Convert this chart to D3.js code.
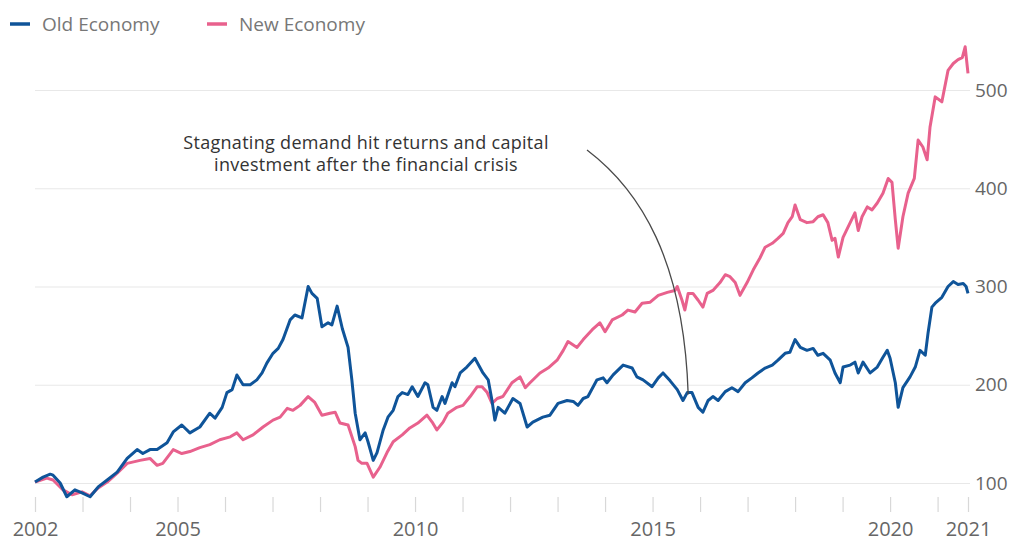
<!DOCTYPE html>
<html>
<head>
<meta charset="utf-8">
<script src="https://cdn.jsdelivr.net/npm/d3@7"></script>
<style>
  html, body { margin: 0; padding: 0; background: #ffffff; }
  svg { display: block; }
  text { font-family: "Open Sans", Lato, sans-serif; }
</style>
</head>
<body>
<svg id="chart" width="1021" height="542"></svg>
<script>
// ---- Data (decimal year, index value) ----
const oldYears = [2002.00,2002.17,2002.32,2002.38,2002.53,2002.67,2002.84,2002.99,2003.16,2003.33,2003.52,2003.73,2003.94,2004.15,2004.27,2004.42,2004.57,2004.78,2004.91,2005.09,2005.26,2005.47,2005.68,2005.79,2005.94,2006.04,2006.15,2006.25,2006.38,2006.53,2006.67,2006.78,2006.88,2007.01,2007.12,2007.22,2007.37,2007.47,2007.62,2007.75,2007.83,2007.94,2008.04,2008.17,2008.25,2008.36,2008.47,2008.59,2008.67,2008.74,2008.84,2008.95,2009.01,2009.12,2009.20,2009.33,2009.43,2009.54,2009.64,2009.73,2009.85,2009.94,2010.06,2010.21,2010.27,2010.38,2010.46,2010.57,2010.63,2010.78,2010.84,2010.95,2011.09,2011.26,2011.43,2011.54,2011.62,2011.68,2011.75,2011.89,2012.06,2012.21,2012.36,2012.48,2012.69,2012.84,2013.01,2013.20,2013.33,2013.43,2013.54,2013.64,2013.83,2013.96,2014.04,2014.17,2014.38,2014.57,2014.67,2014.80,2014.99,2015.12,2015.22,2015.37,2015.52,2015.64,2015.73,2015.83,2015.96,2016.06,2016.17,2016.27,2016.38,2016.53,2016.67,2016.80,2016.95,2017.09,2017.22,2017.37,2017.52,2017.64,2017.79,2017.89,2018.00,2018.11,2018.25,2018.38,2018.48,2018.59,2018.74,2018.84,2018.95,2019.01,2019.16,2019.26,2019.33,2019.43,2019.58,2019.73,2019.85,2019.94,2020.00,2020.11,2020.17,2020.27,2020.42,2020.53,2020.63,2020.74,2020.80,2020.88,2020.95,2021.09,2021.22,2021.33,2021.43,2021.54,2021.60,2021.64];
const oldValues = [101,106,109,108,100,86,93,90,86,96,103,111,125,134,130,134,134,141,152,159,151,157,171,166,177,192,195,210,200,200,205,212,222,232,237,246,266,271,268,300,293,288,259,263,261,280,257,238,205,171,144,151,142,123,131,154,167,174,188,192,190,198,188,202,200,177,174,188,181,202,198,212,218,227,212,205,184,164,177,171,186,181,157,162,167,169,181,184,183,179,186,188,205,207,202,210,220,217,208,205,198,207,212,204,195,184,192,192,177,172,184,188,184,193,197,193,202,207,212,217,220,225,232,233,246,238,235,237,230,232,225,212,202,218,220,223,212,223,212,218,228,235,227,202,177,197,208,218,235,230,253,279,283,289,300,305,302,303,300,293];

const newYears = [2002.00,2002.25,2002.38,2002.59,2002.78,2002.99,2003.16,2003.33,2003.52,2003.73,2003.94,2004.21,2004.42,2004.57,2004.69,2004.91,2005.09,2005.26,2005.47,2005.68,2005.89,2006.11,2006.25,2006.38,2006.59,2006.80,2007.01,2007.16,2007.31,2007.43,2007.58,2007.75,2007.89,2008.04,2008.21,2008.32,2008.42,2008.59,2008.74,2008.80,2008.88,2008.99,2009.12,2009.26,2009.41,2009.54,2009.73,2009.89,2010.06,2010.25,2010.36,2010.46,2010.59,2010.69,2010.88,2011.01,2011.16,2011.31,2011.41,2011.52,2011.62,2011.73,2011.85,2012.04,2012.21,2012.32,2012.42,2012.63,2012.80,2012.99,2013.12,2013.22,2013.41,2013.54,2013.73,2013.89,2014.00,2014.15,2014.36,2014.48,2014.63,2014.78,2014.95,2015.12,2015.31,2015.47,2015.52,2015.62,2015.68,2015.75,2015.85,2015.96,2016.06,2016.15,2016.27,2016.42,2016.53,2016.63,2016.74,2016.84,2016.99,2017.12,2017.26,2017.37,2017.52,2017.64,2017.75,2017.85,2017.94,2018.00,2018.11,2018.25,2018.38,2018.48,2018.59,2018.69,2018.78,2018.84,2018.91,2019.01,2019.16,2019.26,2019.33,2019.41,2019.52,2019.62,2019.73,2019.85,2019.96,2020.04,2020.11,2020.17,2020.27,2020.38,2020.51,2020.59,2020.69,2020.78,2020.84,2020.95,2021.09,2021.22,2021.33,2021.43,2021.52,2021.58,2021.64];
const newValues = [101,105,103,93,88,91,87,95,101,110,120,123,125,118,120,134,130,132,136,139,144,147,151,144,149,157,164,167,176,174,179,188,182,169,171,172,161,159,137,123,120,120,106,116,131,142,149,156,161,169,162,154,162,171,177,179,188,198,198,192,181,186,188,202,208,197,202,212,217,225,235,244,238,246,256,263,254,266,271,276,274,283,284,291,294,296,300,286,276,293,293,286,279,293,296,304,312,310,304,291,304,317,329,340,344,349,354,365,371,383,368,365,366,371,373,365,347,349,330,350,365,375,357,371,381,378,385,395,410,406,368,339,371,395,410,449,442,429,462,493,488,520,527,531,533,544,517];

const yTicks = [100, 200, 300, 400, 500];
const yearTicks = [2002,2003,2004,2005,2006,2007,2008,2009,2010,2011,2012,2013,2014,2015,2016,2017,2018,2019,2020,2021,2021.64];
const labelledTicks = {2002:"2002", 2005:"2005", 2010:"2010", 2015:"2015", 2020:"2020", 2021.64:"2021"};

const seriesNames = ["Old Economy", "New Economy"];
const seriesColors = ["#0f5499", "#e8618d"];
const annotationLines = ["Stagnating demand hit returns and capital", "investment after the financial crisis"];

// ---- Scales ----
const svg = d3.select("#chart");
const x = d3.scaleLinear().domain([2002, 2021.64]).range([35, 968]);
const y = d3.scaleLinear().domain([100, 500]).range([483, 90]);

// ---- Y axis (gridlines + right labels) ----
const yAxis = d3.axisRight(y)
  .tickValues(yTicks)
  .tickSize(935)
  .tickPadding(5)
  .tickFormat(d3.format("d"));
const gy = svg.append("g").attr("transform", "translate(35,0)").call(yAxis);
gy.select(".domain").remove();
gy.selectAll(".tick line").attr("stroke", "#e8e8e8").attr("stroke-width", 1.2);
gy.selectAll(".tick text").attr("fill", "#666").attr("font-size", 19);

// ---- X axis ----
const xAxis = d3.axisBottom(x)
  .tickValues(yearTicks)
  .tickSize(15)
  .tickPadding(10)
  .tickFormat(d => labelledTicks[d] || "");
const gx = svg.append("g").attr("transform", "translate(0,497)").call(xAxis);
gx.select(".domain").remove();
gx.selectAll(".tick line").attr("stroke", "#d8d8d8").attr("stroke-width", 1.2);
gx.selectAll(".tick text").attr("fill", "#666").attr("font-size", 20);

// ---- Lines ----
const line = d3.line().x(d => x(d[0])).y(d => y(d[1]));
const newData = newYears.map((t, i) => [t, newValues[i]]);
const oldData = oldYears.map((t, i) => [t, oldValues[i]]);

svg.append("path").datum(newData)
  .attr("d", line).attr("fill", "none")
  .attr("stroke", seriesColors[1]).attr("stroke-width", 3)
  .attr("stroke-linejoin", "round");
svg.append("path").datum(oldData)
  .attr("d", line).attr("fill", "none")
  .attr("stroke", seriesColors[0]).attr("stroke-width", 3)
  .attr("stroke-linejoin", "round");

// ---- Annotation ----
const ann = svg.append("g");
ann.selectAll("text").data(annotationLines).enter().append("text")
  .attr("x", 366).attr("y", (d, i) => 149 + i * 22)
  .attr("text-anchor", "middle")
  .attr("font-size", 18).attr("letter-spacing", 0.3).attr("fill", "#333")
  .text(d => d);
// curved leader: from near text to the Old Economy line at ~2015.75
const p0 = [x(2013.62), y(439)];
const c1 = [x(2014.74), y(398)];
const c2 = [x(2015.66), y(327)];
const p3 = [x(2015.75), y(190)];
const pth = d3.path();
pth.moveTo(p0[0], p0[1]);
pth.bezierCurveTo(c1[0], c1[1], c2[0], c2[1], p3[0], p3[1]);
ann.append("path").attr("d", pth.toString())
  .attr("fill", "none").attr("stroke", "#4a4a4a").attr("stroke-width", 1.3);

// ---- Legend ----
const legX = [10, 207];
const leg = svg.append("g");
seriesNames.forEach((name, i) => {
  leg.append("line").attr("x1", legX[i]).attr("x2", legX[i] + 20)
    .attr("y1", 24).attr("y2", 24)
    .attr("stroke", seriesColors[i]).attr("stroke-width", 3.5);
  leg.append("text").attr("x", legX[i] + 32).attr("y", 31)
    .attr("font-size", 19).attr("fill", "#777").text(name);
});
</script>
</body>
</html>
